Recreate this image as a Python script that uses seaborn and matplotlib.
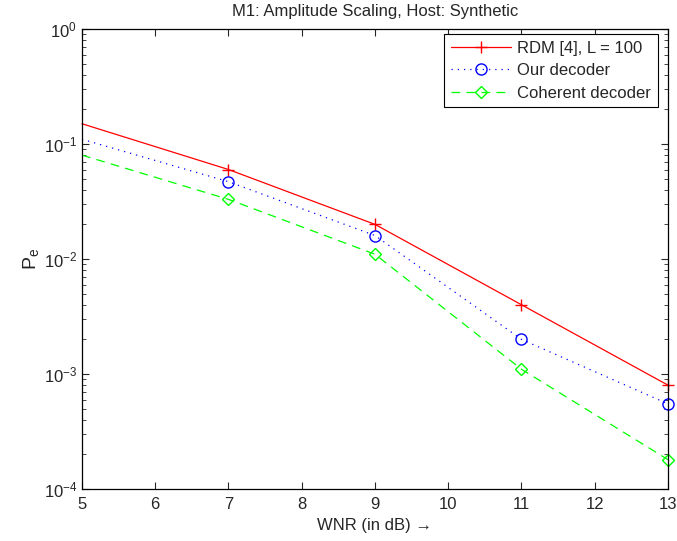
import matplotlib
matplotlib.use("Agg")
import matplotlib.pyplot as plt
import seaborn as sns
import numpy as np
import pandas as pd
from matplotlib.ticker import LogLocator, NullFormatter, FixedLocator

wnr = [5, 7, 9, 11, 13]
rdm = [0.15, 0.06, 0.020, 0.0040, 0.00080]
ours = [0.11, 0.047, 0.016, 0.0020, 0.00055]
coherent = [0.080, 0.033, 0.011, 0.0011, 0.00018]
labels = ["RDM [4], L = 100", "Our decoder", "Coherent decoder"]

sns.set_style("ticks")
plt.rcParams['font.family'] = ['Liberation Sans', 'DejaVu Sans']
plt.rcParams['mathtext.fontset'] = 'custom'
plt.rcParams['mathtext.rm'] = 'Liberation Sans'
plt.rcParams['mathtext.it'] = 'Liberation Sans'

fig = plt.figure(figsize=(6.77, 5.41), dpi=100)
ax = fig.add_axes([0.1211, 0.0961, 0.8656, 0.8503])

red, blue, green = (1, 0, 0), (0, 0, 1), (0, 1, 0)
styles = [
    dict(color=red, linestyle='-', marker='+', markersize=9, markeredgewidth=1.0,
         markeredgecolor=red),
    dict(color=blue, linestyle=(0, (1, 4)), marker='o', markersize=8, markerfacecolor='none',
         markeredgewidth=1.0, markeredgecolor=blue),
    dict(color=green, linestyle=(0, (7, 5)), marker='D', markersize=6.5, markerfacecolor='none',
         markeredgewidth=1.0, markeredgecolor=green),
]
for vals, lab, st in zip([rdm, ours, coherent], labels, styles):
    df = pd.DataFrame({"x": wnr, "y": vals})
    sns.lineplot(data=df, x="x", y="y", ax=ax, label=lab, linewidth=0.9,
                 markevery=[1, 2, 3, 4], clip_on=False, **st)

ax.set_yscale('log')
ax.set_xlim(5, 13)
ax.set_ylim(1e-4, 1)
ax.xaxis.set_major_locator(FixedLocator([5, 6, 7, 8, 9, 10, 11, 12, 13]))
ax.yaxis.set_major_locator(LogLocator(base=10, numticks=10))
ax.yaxis.set_minor_locator(LogLocator(base=10, subs=np.arange(2, 10), numticks=20))
ax.yaxis.set_minor_formatter(NullFormatter())
ax.tick_params(which='both', direction='in', top=True, right=True, labelsize=12)
ax.tick_params(axis='x', which='major', pad=6)
ax.tick_params(which='major', length=5, width=0.8)
ax.tick_params(which='minor', length=3, width=0.6)
for s in ax.spines.values():
    s.set_linewidth(0.9)
    s.set_color('black')

ax.set_title("M1: Amplitude Scaling, Host: Synthetic", fontsize=12, pad=9)
ax.set_xlabel("WNR (in dB) \u2192", fontsize=12, labelpad=4)
ax.set_ylabel(r"P$_\mathregular{e}$", fontsize=14, labelpad=2)

leg = ax.legend(loc='upper right', bbox_to_anchor=(0.983, 0.989), borderaxespad=0,
                fontsize=12, handlelength=3.6, frameon=True, fancybox=False,
                labelspacing=0.45, handletextpad=0.4, borderpad=0.4)
leg.get_frame().set_edgecolor('black')
leg.get_frame().set_linewidth(0.8)
leg.get_frame().set_alpha(1)

fig.savefig("out.png", dpi=100)
